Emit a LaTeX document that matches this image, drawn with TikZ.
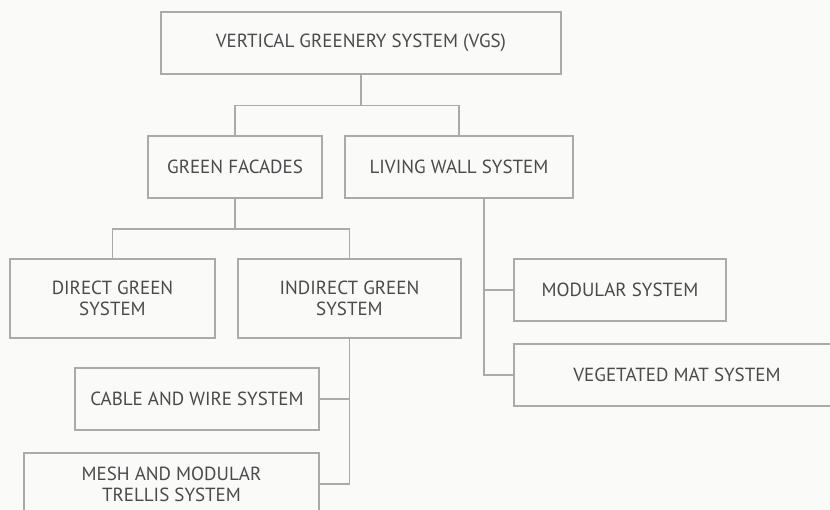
\documentclass[tikz,border=0pt]{standalone}
\usepackage{fontspec}
\setmainfont{PT Sans}
\definecolor{fondo}{RGB}{250,250,248}
\definecolor{linea}{RGB}{170,170,172}
\definecolor{texto}{RGB}{74,74,76}
\begin{document}
\begin{tikzpicture}[x=1pt, y=-1pt,
    caja/.style={draw=linea, line width=1.1pt, fill=fondo, text=texto,
        font=\fontsize{19}{21}\selectfont, align=center,
        minimum height=62pt, inner sep=0pt},
    enlace/.style={draw=linea, line width=1.1pt}]
    \fill[fondo] (0,0) rectangle (830,510);
    \clip (0,0) rectangle (830,510);

    % Nivel superior
    \node[caja, minimum width=400pt] (vgs) at (361,43) {VERTICAL GREENERY SYSTEM (VGS)};

    % Segundo nivel
    \node[caja, minimum width=174pt] (gf) at (235,167) {GREEN FACADES};
    \node[caja, minimum width=228pt] (lws) at (459,167) {LIVING WALL SYSTEM};

    % Fachadas verdes
    \node[caja, minimum width=205pt, minimum height=79pt] (dgs) at (112.5,298.5)
        {DIRECT GREEN\\SYSTEM};
    \node[caja, minimum width=223pt, minimum height=79pt] (igs) at (349.5,298.5)
        {INDIRECT GREEN\\SYSTEM};
    \node[caja, minimum width=244pt] (cws) at (197,399) {CABLE AND WIRE SYSTEM};
    \node[caja, minimum width=295pt] (mmt) at (171.5,484)
        {MESH AND MODULAR\\TRELLIS SYSTEM};

    % Muros vivos
    \node[caja, minimum width=212pt] (mod) at (620,290) {MODULAR SYSTEM};
    \node[caja, minimum width=326pt] (vms) at (677,375) {VEGETATED MAT SYSTEM};
    \coordinate (lwsdrop) at ([xshift=25pt]lws.south);

    % Conexiones
    \draw[enlace] (vgs.south) -- ++(0,31) -| (gf.north);
    \draw[enlace] (vgs.south) -- ++(0,31) -| (lws.north);
    \draw[enlace] (gf.south) -- ++(0,30.5) -| (dgs.north);
    \draw[enlace] (gf.south) -- ++(0,30.5) -| (igs.north);
    \draw[enlace] (igs.south) |- (cws.east);
    \draw[enlace] (igs.south) |- (mmt.east);
    \draw[enlace] (lwsdrop) |- (mod.west);
    \draw[enlace] (lwsdrop) |- (vms.west);
\end{tikzpicture}
\end{document}
